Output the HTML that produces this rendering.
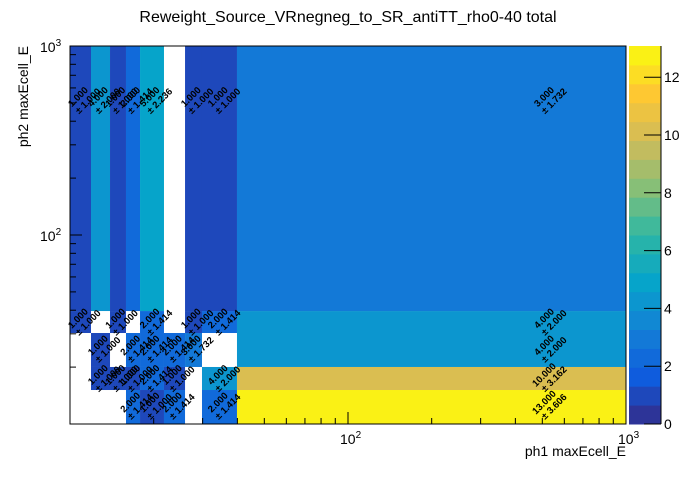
<!DOCTYPE html>
<html><head><meta charset="utf-8"><style>
body{margin:0;background:#fff;width:696px;height:472px;overflow:hidden;font-family:"Liberation Sans",sans-serif}
</style></head><body>
<svg id="chart" width="696" height="472" xmlns="http://www.w3.org/2000/svg" font-family="Liberation Sans, sans-serif">
<text x="348" y="22" font-size="16" text-anchor="middle">Reweight_Source_VRnegneg_to_SR_antiTT_rho0-40 total</text>
<text x="626" y="456" font-size="14" text-anchor="end">ph1 maxEcell_E</text>
<text transform="translate(28,46) rotate(-90)" font-size="14" text-anchor="end">ph2 maxEcell_E</text>
<g id="cells"></g><g id="labels"></g><g id="axes"></g><g id="cbar"></g>
</svg>
<script>
// bin edges (GeV, log axes)
const xEdges=[10,11.9,13.93,15.9,17.86,21.78,25.93,29.84,39.87,1000];
const yEdges=[10,15.13,20.03,30.3,39.6,1000];
// values: rows bottom->top, columns left->right (null = empty)
const row0=[null,null,null,2,1,2,null,2,13];
const row1=[null,1,1,1,2,1,null,4,10];
const row2=[null,1,null,2,2,2,3,null,4];
const row3=[1,null,1,null,2,null,1,2,4];
const row4=[1,4,1,2,5,null,1,1,3];
const rows=[row0,row1,row2,row3,row4];
const cbTicks=[0,2,4,6,8,10,12];
const zMax=13.08;
const X0=70,X1=626,Y0=424,Y1=46;
const xs=v=>X0+(Math.log10(v)-1)/2*(X1-X0);
const ys=v=>Y0-(Math.log10(v)-1)/2*(Y0-Y1);
const NS="http://www.w3.org/2000/svg";
function mk(t,a,p){const e=document.createElementNS(NS,t);for(const k in a)e.setAttribute(k,a[k]);p.appendChild(e);return e;}
const R=[0.2082,0.0592,0.0780,0.0232,0.1802,0.5301,0.8186,0.9956,0.9764];
const G=[0.1664,0.3599,0.5041,0.6419,0.7178,0.7492,0.7328,0.7862,0.9832];
const B=[0.5293,0.8684,0.8385,0.7914,0.6425,0.4662,0.3499,0.1968,0.0539];
function pal(f){f=Math.max(0,Math.min(1,f));const p=f*8,i=Math.min(7,Math.floor(p)),t=p-i;
 const c=a=>Math.round(255*(a[i]+(a[i+1]-a[i])*t));return `rgb(${c(R)},${c(G)},${c(B)})`;}
const NB=20;
function colorFor(v){const b=Math.min(NB-1,Math.floor(v/zMax*NB));return pal((b+0.5)/NB);}
const cells=document.getElementById('cells'),labels=document.getElementById('labels');
rows.forEach((row,j)=>row.forEach((v,i)=>{
 if(v==null)return;
 const x=xs(xEdges[i]),x2=xs(xEdges[i+1]),y=ys(yEdges[j+1]),y2=ys(yEdges[j]);
 const r=mk('rect',{x:x,y:y,width:x2-x,height:y2-y,fill:colorFor(v)},cells);
 
 
 const cx=xs((xEdges[i]+xEdges[i+1])/2),cy=ys((yEdges[j]+yEdges[j+1])/2);
 const t=mk('text',{transform:`translate(${cx},${cy}) rotate(-45)`,'font-size':9.5,'text-anchor':'middle','font-weight':'bold'},labels);
 
 
 mk('tspan',{x:0,dy:-1},t).textContent=v.toFixed(3);
 mk('tspan',{x:4,dy:10},t).textContent='± '+Math.sqrt(v).toFixed(3);
}));
const ax=document.getElementById('axes');
mk('rect',{x:X0,y:Y1,width:X1-X0,height:Y0-Y1,fill:'none',stroke:'#000'},ax);
for(let d=10;d<1000;d*=10)for(let m=1;m<10;m++){const v=d*m;if(v<=10)continue;
 const L=m==1?12:6,px=xs(v),py=ys(v);
 mk('line',{x1:px,x2:px,y1:Y0,y2:Y0-L,stroke:'#000'},ax);
 mk('line',{x1:X0,x2:X0+L,y1:py,y2:py,stroke:'#000'},ax);}
[[100,'2'],[1000,'3']].forEach(([v,e])=>{
 const t=mk('text',{x:xs(v)-8,y:Y0+20,'font-size':14},ax);t.textContent='10';
 mk('tspan',{dy:-6,'font-size':10},t).textContent=e;
 
 
 const u=mk('text',{x:X0-30,y:ys(v)+6,'font-size':14},ax);u.textContent='10';
 mk('tspan',{dy:-6,'font-size':10},u).textContent=e;
 
 });
const cb=document.getElementById('cbar');


const CX0=629,CX1=661,cy=v=>Y0-v/zMax*(Y0-Y1);
for(let b=0;b<NB;b++){const ya=cy((b+1)*zMax/NB),yb=cy(b*zMax/NB);
 mk('rect',{x:CX0,y:ya,width:CX1-CX0,height:yb-ya+0.5,fill:pal((b+0.5)/NB)},cb);}
mk('line',{x1:CX1,x2:CX1,y1:Y1,y2:Y0,stroke:'#000'},cb);
cbTicks.forEach(v=>{const y=cy(v);mk('line',{x1:CX1-17,x2:CX1,y1:y,y2:y,stroke:'#000'},cb);
 const t=mk('text',{x:664,y:y+5,'font-size':14},cb);t.textContent=v;
 
 });
</script>
</body></html>
